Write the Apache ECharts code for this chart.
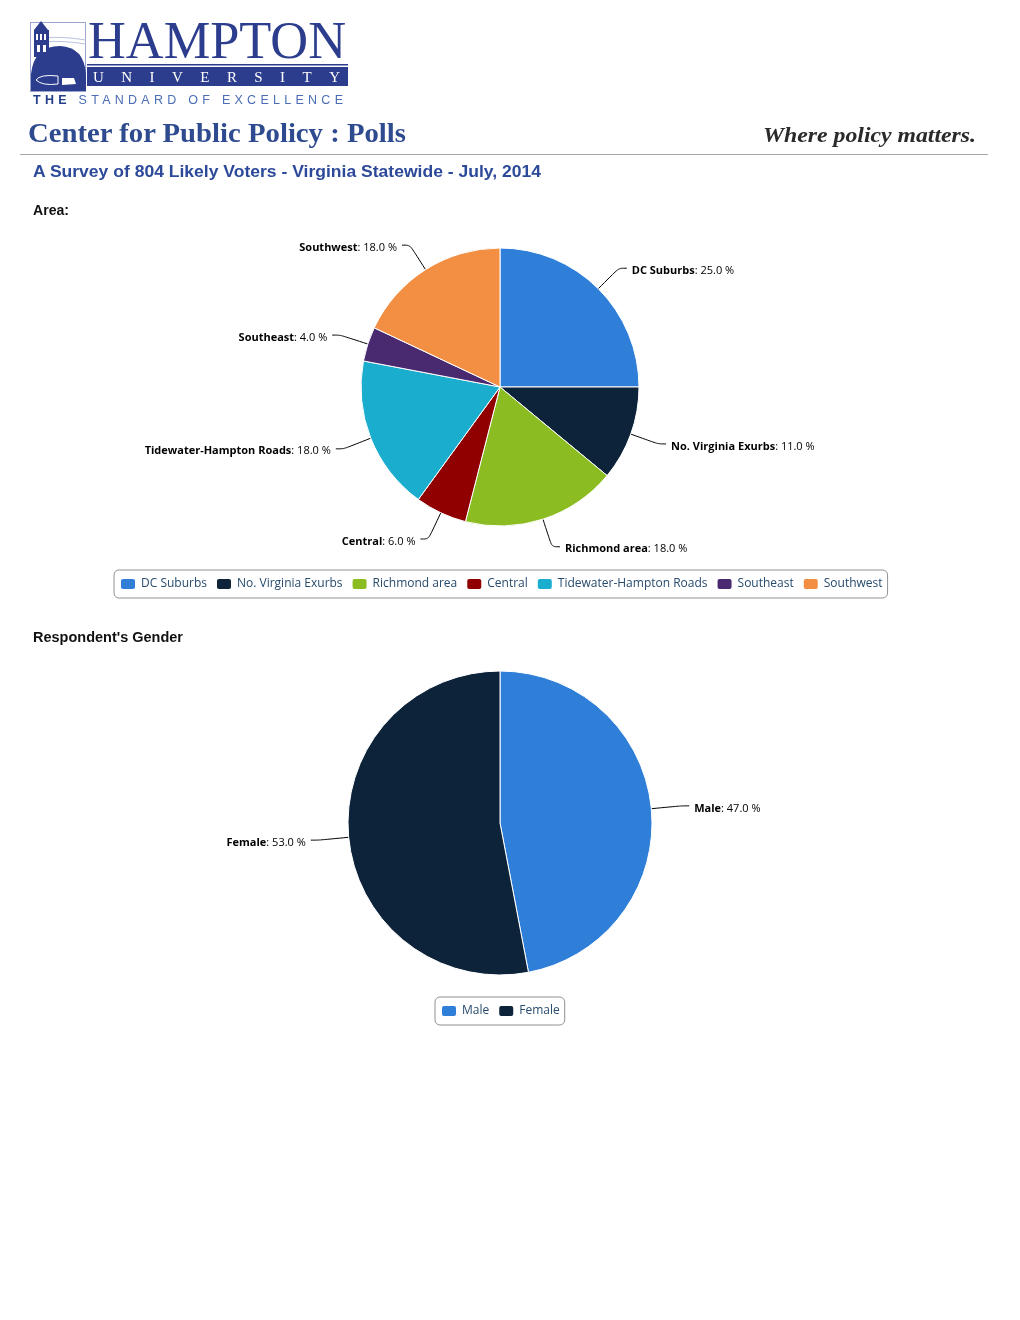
<!DOCTYPE html>
<html><head><meta charset="utf-8">
<script src="https://cdn.jsdelivr.net/npm/echarts@6/dist/echarts.min.js"></script>
<style>
html,body{margin:0;padding:0;background:#fff;width:1020px;height:1320px;overflow:hidden;}
#chart{position:absolute;left:0;top:0;width:1020px;height:1320px;}
.t{position:absolute;white-space:nowrap;z-index:2;line-height:1;transform-origin:left top;}
#logo{position:absolute;left:0;top:0;z-index:2;}
</style></head><body>
<div id="chart"></div>
<svg id="logo" width="360" height="112" viewBox="0 0 360 112">
  <rect x="30.5" y="22.5" width="55" height="69" fill="none" stroke="#9aa6cf" stroke-width="1"/>
  <path d="M45 38 Q60 36 86 40" fill="none" stroke="#b8c1de" stroke-width="1"/>
  <path d="M45 42 Q60 40 86 44" fill="none" stroke="#b8c1de" stroke-width="1"/>
  <path d="M31 91 L31 74 Q34 46 60 46 Q84 47 86 74 L86 91 Z" fill="#2c3d8d"/>
  <polygon points="41,21 34,30 48,30" fill="#2c3d8d"/>
  <rect x="34" y="30" width="15" height="27" fill="#2c3d8d"/>
  <rect x="36" y="34" width="2" height="6" fill="#fff"/>
  <rect x="40" y="34" width="2" height="6" fill="#fff"/>
  <rect x="44" y="34" width="2" height="6" fill="#fff"/>
  <rect x="37" y="45" width="3" height="7" fill="#fff"/>
  <rect x="43" y="45" width="3" height="7" fill="#fff"/>
  <path d="M36 80 Q40 74 58 76 L58 84 Q42 86 36 80 Z" fill="none" stroke="#fff" stroke-width="1"/>
  <path d="M62 78 L74 78 L76 84 L62 85 Z" fill="#fff"/>
  <rect x="87" y="64" width="261" height="1.5" fill="#2c3d8d"/>
  <rect x="87" y="67" width="261" height="19" fill="#2c3d8d"/>
</svg>
<div class="t" id="hampton" style="left:88px;top:14px;font-family:'Liberation Serif';font-size:53px;color:#2c3d8d;">HAMPTON</div>
<div class="t" id="univ" style="left:93px;top:70px;font-family:'Liberation Serif';font-size:15px;color:#fff;">UNIVERSITY</div>
<div class="t" id="std" style="left:33px;top:94px;font-family:'Liberation Sans';font-size:12.5px;"><span style="color:#25408a;font-weight:bold">THE</span><span style="color:#4a6db5"> STANDARD OF EXCELLENCE</span></div>
<div class="t" id="cpp" style="left:28px;top:120px;font-family:'Liberation Serif';font-weight:bold;font-size:26.5px;color:#2f4b8f;">Center for Public Policy : Polls</div>
<div class="t" id="wpm" style="left:763px;top:125px;font-family:'Liberation Serif';font-weight:bold;font-style:italic;font-size:20px;color:#2a2a2a;">Where policy matters.</div>
<div style="position:absolute;left:20px;top:154px;width:968px;height:1px;background:#a8a8a8;z-index:2"></div>
<div class="t" id="sub" style="left:33px;top:163px;font-family:'Liberation Sans';font-weight:bold;font-size:17px;color:#2d4a9a;">A Survey of 804 Likely Voters - Virginia Statewide - July, 2014</div>
<div class="t" id="area" style="left:33px;top:202px;font-family:'Liberation Sans';font-weight:bold;font-size:15.5px;color:#111;">Area:</div>
<div class="t" id="gender" style="left:33px;top:629px;font-family:'Liberation Sans';font-weight:bold;font-size:15.5px;color:#111;">Respondent's Gender</div>
<script>
// ---- data ----
const areaNames = ['DC Suburbs', 'No. Virginia Exurbs', 'Richmond area', 'Central', 'Tidewater-Hampton Roads', 'Southeast', 'Southwest'];
const areaValues = [25.0, 11.0, 18.0, 6.0, 18.0, 4.0, 18.0];
const areaColors = ['#2f7ed8', '#0d233a', '#8bbc21', '#910000', '#1aadce', '#492970', '#f28f43'];
const genderNames = ['Male', 'Female'];
const genderValues = [47.0, 53.0];
const genderColors = ['#2f7ed8', '#0d233a'];

// ---- header text fitting ----
function fitW(id, w) {
  const el = document.getElementById(id);
  const r = el.getBoundingClientRect().width;
  el.style.transform = 'scaleX(' + (w / r) + ')';
}
function spread(id, w) {
  const el = document.getElementById(id);
  const n = el.textContent.length;
  const r = el.getBoundingClientRect().width;
  el.style.letterSpacing = ((w - r) / (n - 1)) + 'px';
}
fitW('hampton', 258);
spread('univ', 247);
spread('std', 310);
fitW('cpp', 378);
fitW('wpm', 213);
fitW('sub', 508);
fitW('area', 36);
fitW('gender', 150);

// ---- chart ----
const chart = echarts.init(document.getElementById('chart'), null, {renderer: 'canvas'});
function pieLabel() {
  return {
    show: true,
    fontFamily: 'Open Sans', fontSize: 11, color: '#000',
    padding: [5, 0, 0, 0],
    formatter: p => '{b|' + p.name + '}: ' + p.value.toFixed(1) + ' %',
    rich: {b: {fontFamily: 'Open Sans', fontSize: 11, fontWeight: 'bold', color: '#000'}}
  };
}
const legendBase = {
  orient: 'horizontal', itemWidth: 16, itemHeight: 12, itemGap: 8, icon: 'roundRect',
  borderColor: '#909090', borderWidth: 1, borderRadius: 5, padding: [7, 5],
  backgroundColor: '#fff', selectedMode: false,
  textStyle: {fontFamily: 'Open Sans', fontSize: 12, color: '#274b6d', lineHeight: 12}
};
chart.setOption({
  animation: false,
  color: areaColors,
  legend: [
    Object.assign({}, legendBase, {data: areaNames, left: 114, top: 570}),
    Object.assign({}, legendBase, {data: genderNames, left: 435, top: 997})
  ],
  series: [
    {
      type: 'pie', name: 'Area', center: [500, 387], radius: 139, startAngle: 90, clockwise: true,
      data: areaNames.map((n, i) => ({name: n, value: areaValues[i], itemStyle: {color: areaColors[i]}})),
      itemStyle: {borderColor: '#fff', borderWidth: 1},
      label: pieLabel(),
      labelLine: {show: true, length: 29, length2: 8, smooth: 0.3, lineStyle: {color: '#000', width: 1}},
      emphasis: {disabled: true}
    },
    {
      type: 'pie', name: 'Gender', center: [500, 823], radius: 152, startAngle: 90, clockwise: true,
      data: genderNames.map((n, i) => ({name: n, value: genderValues[i], itemStyle: {color: genderColors[i]}})),
      itemStyle: {borderColor: '#fff', borderWidth: 1},
      label: pieLabel(),
      labelLine: {show: true, length: 30, length2: 8, smooth: 0.3, lineStyle: {color: '#000', width: 1}},
      emphasis: {disabled: true}
    }
  ]
});
</script>
</body></html>
